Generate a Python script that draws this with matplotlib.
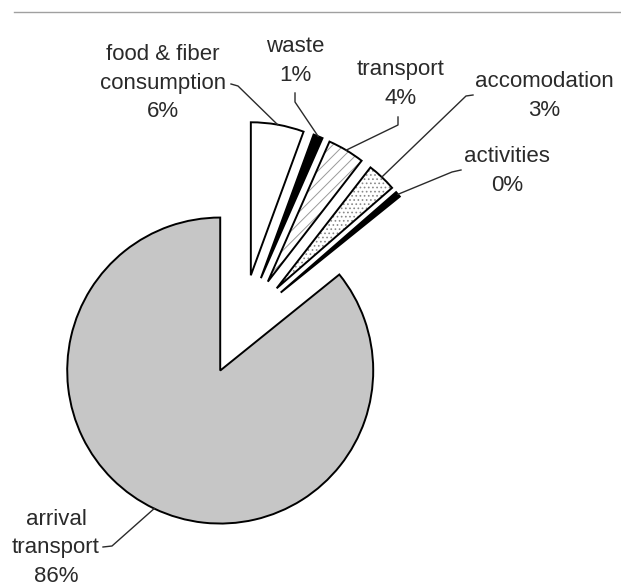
import matplotlib
matplotlib.use("Agg")
import matplotlib.pyplot as plt
import numpy as np

plt.rcParams["font.family"] = ["Liberation Sans", "DejaVu Sans"]
plt.rcParams["hatch.linewidth"] = 0.7

# data (shares in %; labels are the printed roundings)
labels = ["food & fiber\nconsumption\n6%", "waste\n1%", "transport\n4%",
          "accomodation\n3%", "activities\n0%", "arrival\ntransport\n86%"]
shares = [5.6, 1.0, 3.9, 3.1, 0.6, 85.8]

# styles
fills = ["white", "black", "white", "white", "black", "#c6c6c6"]
hatches = [None, None, "///", "....", None, None]
hatch_colors = ["black", "black", "#9a9a9a", "#8a8a8a", "black", "#c6c6c6"]
explode = [0.33] * len(shares)

# layout, in pixels of the 621x586 canvas
W, H = 621, 586
R_PX = 153
CX, CY = 242, 325
label_px = [(163, 83), (295, 61), (401, 84), (544, 96), (507, 171), (56, 548)]
leader_px = [[(238, 86), (231, 84)],
             [(295, 102), (295, 93)],
             [(398, 125), (398, 117)],
             [(466, 96), (473, 95)],
             [(452, 172), (461, 170)],
             [(112, 546), (103, 547)]]


def px(x, y):
    return (x - CX) / R_PX, (CY - y) / R_PX


fig = plt.figure(figsize=(W / 100, H / 100), dpi=100)
ax = fig.add_axes([0, 0, 1, 1])

wedges, _ = ax.pie(shares, explode=explode, startangle=90, counterclock=False,
                   colors=fills, wedgeprops=dict(linewidth=0))
for w, h, hc in zip(wedges, hatches, hatch_colors):
    w.set_edgecolor(hc)
    if h:
        w.set_hatch(h)

outlines, _ = ax.pie(shares, explode=explode, startangle=90, counterclock=False,
                     wedgeprops=dict(fill=False, edgecolor="black", linewidth=1.4))

for w, lab, (tx, ty), pts in zip(outlines, labels, label_px, leader_px):
    mid = np.deg2rad((w.theta1 + w.theta2) / 2)
    ax_x = w.center[0] + w.r * np.cos(mid)
    ax_y = w.center[1] + w.r * np.sin(mid)
    xs = [ax_x] + [px(*p)[0] for p in pts]
    ys = [ax_y] + [px(*p)[1] for p in pts]
    ax.plot(xs, ys, color="#2a2a2a", lw=1.0)
    ax.text(*px(tx, ty), lab, ha="center", va="center", fontsize=16,
            color="#2a2a2a", linespacing=1.45)

# thin rule along the top
x0, y0 = px(14, 12)
x1, _ = px(W, 12)
ax.plot([x0, x1], [y0, y0], color="#a0a0a0", lw=1.0)

ax.set_aspect("auto")
ax.set_xlim(px(0, 0)[0], px(W, 0)[0])
ax.set_ylim(px(0, H)[1], px(0, 0)[1])
ax.axis("off")

fig.savefig("out.png", dpi=100)
